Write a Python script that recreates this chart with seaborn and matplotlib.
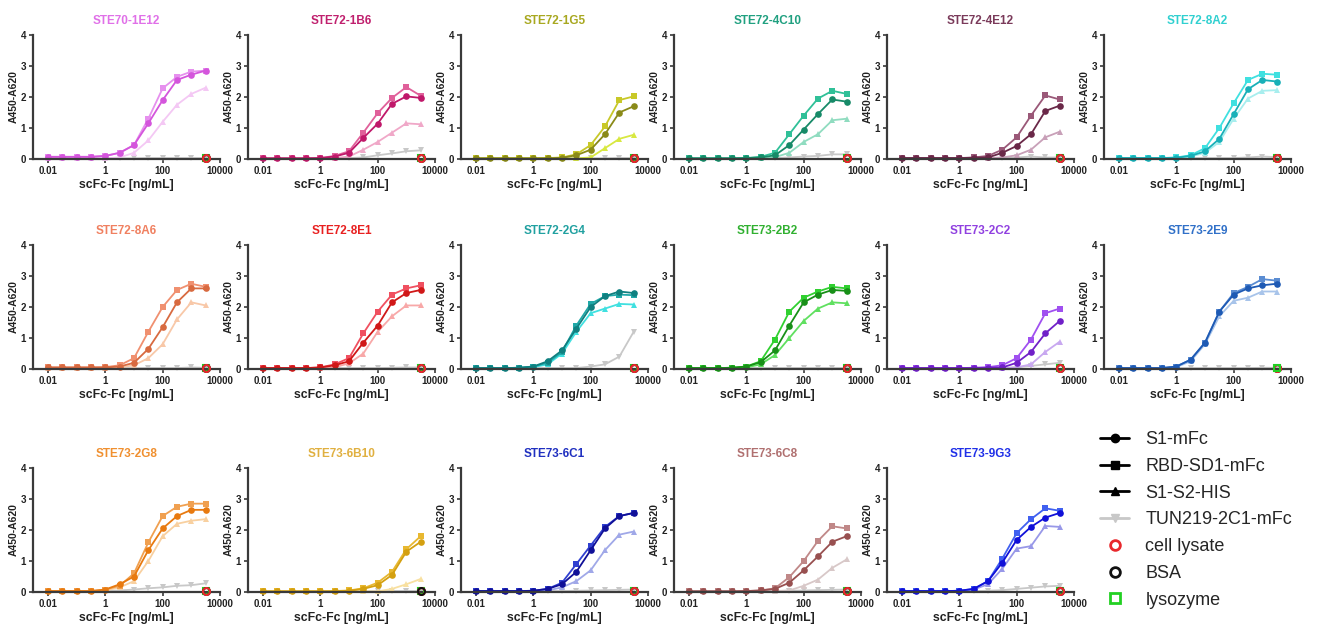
import numpy as np
import pandas as pd
import matplotlib
matplotlib.use("Agg")
import matplotlib.pyplot as plt
from matplotlib.lines import Line2D
import matplotlib.font_manager as fm
import seaborn as sns

# ---------------- data ----------------
conc = [0.01, 0.0316, 0.1, 0.316, 1, 3.16, 10, 31.6, 100, 316, 1000, 3162]

titles = ["STE70-1E12", "STE72-1B6", "STE72-1G5", "STE72-4C10", "STE72-4E12", "STE72-8A2",
          "STE72-8A6", "STE72-8E1", "STE72-2G4", "STE73-2B2", "STE73-2C2", "STE73-2E9",
          "STE73-2G8", "STE73-6B10", "STE73-6C1", "STE73-6C8", "STE73-9G3"]

title_colors = ["#E070E8", "#C0206E", "#A8A820", "#20A080", "#7A3A5A", "#30D0D0",
                "#F08060", "#E82020", "#20A0A0", "#30B030", "#9040E0", "#3070C8",
                "#F09030", "#E0B040", "#2030C0", "#B07070", "#2030E8"]

color_s1 = ["#D455DC", "#C0186A", "#8A8A18", "#178A68", "#6A2848", "#18B0B8",
            "#D86A40", "#D01818", "#108080", "#189018", "#7020C8", "#1E5AB4",
            "#E87A10", "#D4A010", "#101098", "#985050", "#1010D8"]
color_rbd = ["#E690EE", "#E0609A", "#C8C828", "#30C098", "#9A5878", "#40E0E0",
             "#F09070", "#F05060", "#20A8A8", "#30D030", "#A050F0", "#5A8CD2",
             "#F0A050", "#E8B830", "#3040D0", "#C08888", "#4060F0"]
color_s1s2 = ["#F4C8F4", "#F0A8C8", "#D8E840", "#90DCC0", "#C8A0B8", "#A8EEEE",
              "#F8C8A8", "#F8A8A8", "#40E0E0", "#60E060", "#C8A8F0", "#A8C4EA",
              "#F8D0A0", "#F8E0A0", "#A0A8E8", "#D8C8C8", "#9898E8"]

s1_mfc = [
    [0.07, 0.07, 0.07, 0.07, 0.10, 0.20, 0.45, 1.15, 1.90, 2.55, 2.72, 2.85],
    [0.02, 0.02, 0.02, 0.02, 0.03, 0.08, 0.20, 0.68, 1.14, 1.78, 2.02, 1.97],
    [0.02, 0.02, 0.02, 0.02, 0.02, 0.02, 0.04, 0.12, 0.30, 0.80, 1.50, 1.70],
    [0.02, 0.02, 0.02, 0.02, 0.03, 0.05, 0.12, 0.45, 0.95, 1.45, 1.92, 1.85],
    [0.03, 0.03, 0.03, 0.03, 0.03, 0.04, 0.05, 0.20, 0.42, 0.80, 1.55, 1.72],
    [0.03, 0.03, 0.03, 0.03, 0.04, 0.10, 0.25, 0.65, 1.45, 2.25, 2.55, 2.50],
    [0.05, 0.05, 0.05, 0.05, 0.05, 0.08, 0.20, 0.65, 1.35, 2.15, 2.60, 2.60],
    [0.03, 0.03, 0.03, 0.03, 0.05, 0.12, 0.25, 0.85, 1.40, 2.15, 2.45, 2.55],
    [0.03, 0.03, 0.03, 0.04, 0.08, 0.25, 0.60, 1.30, 2.00, 2.35, 2.50, 2.45],
    [0.03, 0.03, 0.03, 0.04, 0.08, 0.22, 0.60, 1.40, 2.15, 2.40, 2.55, 2.52],
    [0.03, 0.03, 0.03, 0.03, 0.03, 0.03, 0.04, 0.05, 0.20, 0.55, 1.15, 1.55],
    [0.03, 0.03, 0.03, 0.03, 0.08, 0.30, 0.85, 1.85, 2.40, 2.60, 2.70, 2.75],
    [0.03, 0.03, 0.03, 0.03, 0.08, 0.25, 0.50, 1.35, 2.05, 2.45, 2.65, 2.65],
    [0.02, 0.02, 0.02, 0.02, 0.02, 0.02, 0.04, 0.10, 0.22, 0.55, 1.30, 1.62],
    [0.03, 0.03, 0.03, 0.03, 0.04, 0.10, 0.25, 0.65, 1.35, 2.05, 2.45, 2.55],
    [0.02, 0.02, 0.02, 0.02, 0.03, 0.05, 0.10, 0.30, 0.70, 1.15, 1.62, 1.80],
    [0.03, 0.03, 0.03, 0.03, 0.04, 0.10, 0.35, 0.95, 1.68, 2.10, 2.40, 2.55],
]
rbd_sd1_mfc = [
    [0.07, 0.07, 0.07, 0.07, 0.10, 0.20, 0.45, 1.30, 2.28, 2.65, 2.82, 2.85],
    [0.02, 0.02, 0.02, 0.02, 0.03, 0.10, 0.25, 0.85, 1.48, 1.97, 2.32, 2.04],
    [0.02, 0.02, 0.02, 0.02, 0.02, 0.03, 0.05, 0.15, 0.45, 1.05, 1.90, 2.02],
    [0.02, 0.02, 0.02, 0.02, 0.03, 0.07, 0.20, 0.80, 1.40, 1.95, 2.20, 2.10],
    [0.03, 0.03, 0.03, 0.03, 0.03, 0.05, 0.10, 0.30, 0.70, 1.40, 2.05, 1.92],
    [0.03, 0.03, 0.03, 0.03, 0.05, 0.12, 0.35, 1.00, 1.80, 2.55, 2.75, 2.72],
    [0.05, 0.05, 0.05, 0.05, 0.06, 0.12, 0.35, 1.20, 2.00, 2.55, 2.75, 2.65],
    [0.03, 0.03, 0.03, 0.03, 0.05, 0.15, 0.35, 1.15, 1.85, 2.40, 2.60, 2.70],
    [0.03, 0.03, 0.03, 0.04, 0.08, 0.20, 0.55, 1.40, 2.10, 2.35, 2.40, 2.38],
    [0.03, 0.03, 0.03, 0.04, 0.08, 0.25, 0.95, 1.85, 2.30, 2.50, 2.65, 2.60],
    [0.03, 0.03, 0.03, 0.03, 0.03, 0.04, 0.06, 0.12, 0.35, 0.95, 1.80, 1.95],
    [0.03, 0.03, 0.03, 0.03, 0.08, 0.30, 0.85, 1.85, 2.45, 2.65, 2.90, 2.85],
    [0.03, 0.03, 0.03, 0.03, 0.08, 0.20, 0.60, 1.60, 2.45, 2.75, 2.85, 2.85],
    [0.02, 0.02, 0.02, 0.02, 0.02, 0.03, 0.05, 0.12, 0.30, 0.65, 1.38, 1.80],
    [0.03, 0.03, 0.03, 0.03, 0.04, 0.10, 0.30, 0.90, 1.50, 2.10, 2.45, 2.55],
    [0.02, 0.02, 0.02, 0.02, 0.03, 0.05, 0.12, 0.48, 1.00, 1.65, 2.12, 2.05],
    [0.03, 0.03, 0.03, 0.03, 0.04, 0.10, 0.35, 1.08, 1.90, 2.35, 2.70, 2.62],
]
s1_s2_his = [
    [0.02, 0.02, 0.02, 0.02, 0.02, 0.05, 0.20, 0.60, 1.20, 1.75, 2.10, 2.30],
    [0.02, 0.02, 0.02, 0.02, 0.02, 0.03, 0.08, 0.30, 0.55, 0.85, 1.15, 1.12],
    [0.02, 0.02, 0.02, 0.02, 0.02, 0.02, 0.02, 0.02, 0.05, 0.35, 0.65, 0.78],
    [0.02, 0.02, 0.02, 0.02, 0.02, 0.03, 0.06, 0.20, 0.55, 0.80, 1.25, 1.30],
    [0.02, 0.02, 0.02, 0.02, 0.02, 0.02, 0.03, 0.05, 0.12, 0.30, 0.70, 0.88],
    [0.03, 0.03, 0.03, 0.03, 0.03, 0.08, 0.20, 0.55, 1.30, 1.95, 2.20, 2.22],
    [0.03, 0.03, 0.03, 0.03, 0.03, 0.05, 0.12, 0.35, 0.80, 1.60, 2.15, 2.05],
    [0.03, 0.03, 0.03, 0.03, 0.03, 0.06, 0.18, 0.50, 1.20, 1.70, 2.05, 2.05],
    [0.03, 0.03, 0.03, 0.03, 0.06, 0.15, 0.50, 1.20, 1.80, 1.95, 2.10, 2.08],
    [0.03, 0.03, 0.03, 0.03, 0.05, 0.15, 0.45, 1.00, 1.55, 1.95, 2.15, 2.12],
    [0.02, 0.02, 0.02, 0.02, 0.02, 0.02, 0.02, 0.03, 0.05, 0.15, 0.55, 0.88],
    [0.03, 0.03, 0.03, 0.03, 0.06, 0.25, 0.80, 1.70, 2.20, 2.30, 2.50, 2.50],
    [0.03, 0.03, 0.03, 0.03, 0.05, 0.15, 0.35, 1.00, 1.80, 2.20, 2.30, 2.35],
    [0.02, 0.02, 0.02, 0.02, 0.02, 0.02, 0.02, 0.02, 0.02, 0.10, 0.25, 0.42],
    [0.03, 0.03, 0.03, 0.03, 0.03, 0.05, 0.15, 0.35, 0.70, 1.35, 1.85, 1.95],
    [0.02, 0.02, 0.02, 0.02, 0.02, 0.02, 0.03, 0.05, 0.20, 0.40, 0.78, 1.05],
    [0.03, 0.03, 0.03, 0.03, 0.03, 0.08, 0.25, 0.75, 1.40, 1.48, 2.13, 2.10],
]
tun219_2c1_mfc = [
    [0.02, 0.02, 0.02, 0.02, 0.02, 0.02, 0.02, 0.03, 0.03, 0.03, 0.03, 0.03],
    [0.02, 0.02, 0.02, 0.02, 0.02, 0.02, 0.03, 0.05, 0.12, 0.18, 0.25, 0.28],
    [0.02, 0.02, 0.02, 0.02, 0.02, 0.02, 0.02, 0.02, 0.02, 0.02, 0.03, 0.03],
    [0.02, 0.02, 0.02, 0.02, 0.02, 0.02, 0.03, 0.05, 0.08, 0.10, 0.15, 0.15],
    [0.02, 0.02, 0.02, 0.02, 0.02, 0.02, 0.02, 0.03, 0.05, 0.08, 0.05, 0.05],
    [0.03, 0.03, 0.03, 0.03, 0.03, 0.03, 0.03, 0.03, 0.03, 0.05, 0.08, 0.06],
    [0.03, 0.03, 0.03, 0.03, 0.03, 0.03, 0.03, 0.03, 0.03, 0.03, 0.05, 0.04],
    [0.03, 0.03, 0.03, 0.03, 0.03, 0.03, 0.03, 0.03, 0.03, 0.04, 0.05, 0.05],
    [0.03, 0.03, 0.03, 0.03, 0.03, 0.03, 0.03, 0.03, 0.08, 0.15, 0.40, 1.20],
    [0.03, 0.03, 0.03, 0.03, 0.03, 0.03, 0.03, 0.03, 0.03, 0.03, 0.03, 0.03],
    [0.02, 0.02, 0.02, 0.02, 0.02, 0.02, 0.02, 0.03, 0.06, 0.10, 0.15, 0.20],
    [0.03, 0.03, 0.03, 0.03, 0.03, 0.03, 0.03, 0.03, 0.03, 0.03, 0.04, 0.04],
    [0.03, 0.03, 0.03, 0.03, 0.03, 0.05, 0.08, 0.12, 0.15, 0.20, 0.22, 0.28],
    [0.02, 0.02, 0.02, 0.02, 0.02, 0.02, 0.02, 0.02, 0.02, 0.03, 0.03, 0.03],
    [0.03, 0.03, 0.03, 0.03, 0.03, 0.03, 0.03, 0.04, 0.05, 0.06, 0.07, 0.08],
    [0.02, 0.02, 0.02, 0.02, 0.02, 0.02, 0.03, 0.04, 0.05, 0.06, 0.07, 0.08],
    [0.03, 0.03, 0.03, 0.03, 0.03, 0.03, 0.04, 0.06, 0.10, 0.14, 0.18, 0.20],
]
# control samples (single point at highest concentration)
control_conc = 3162
cell_lysate = [0.02] * 17
bsa = [0.02] * 17
lysozyme = [0.02] * 17
top_control = ["cell lysate"] * 11 + ["lysozyme"] + ["cell lysate", "BSA"] + ["cell lysate"] * 3

x_ticks = [0.01, 1, 100, 10000]
x_ticklabels = ["0.01", "1", "100", "10000"]
y_ticks = [0, 1, 2, 3, 4]

# ---------------- style ----------------
sns.set_theme(style="ticks")
names = {f.name for f in fm.fontManager.ttflist}
fam = "Liberation Sans" if "Liberation Sans" in names else "DejaVu Sans"
plt.rcParams["font.family"] = [fam, "DejaVu Sans"]

W, H = 1321, 624
fig = plt.figure(figsize=(W / 100, H / 100), dpi=100)
fig.patch.set_facecolor("white")

col_left = [33, 248, 461, 674, 887, 1104]
ax_w = 187
row_top = [35, 245, 468]
ax_h = 124
axis_col = "#3a3a3a"
gray = "#c8c8c8"

ctrl_style = {
    "cell lysate": dict(marker="o", edge="#e8282c"),
    "BSA": dict(marker="o", edge="#111111"),
    "lysozyme": dict(marker="s", edge="#22d022"),
}

for i, t in enumerate(titles):
    r, c = divmod(i, 6)
    left = col_left[c]
    top = row_top[r]
    ax = fig.add_axes([left / W, 1 - (top + ax_h) / H, ax_w / W, ax_h / H])
    series = [
        (tun219_2c1_mfc[i], gray, "v"),
        (s1_s2_his[i], color_s1s2[i], "^"),
        (rbd_sd1_mfc[i], color_rbd[i], "s"),
        (s1_mfc[i], color_s1[i], "o"),
    ]
    for vals, col, mk in series:
        sns.lineplot(x=conc, y=vals, ax=ax, color=col, marker=mk, markersize=4.8,
                     markeredgewidth=0, linewidth=1.3, legend=False)
    ctrl_vals = {"cell lysate": cell_lysate[i], "BSA": bsa[i], "lysozyme": lysozyme[i]}
    order = [k for k in ["lysozyme", "BSA", "cell lysate"] if k != top_control[i]] + [top_control[i]]
    for k in order:
        st = ctrl_style[k]
        ax.plot([control_conc], [ctrl_vals[k]], linestyle="none", marker=st["marker"],
                markersize=5, markerfacecolor="none", markeredgecolor=st["edge"],
                markeredgewidth=1.5, clip_on=False, zorder=5)
    for ln in ax.lines:
        ln.set_clip_on(False)
    ax.set_xscale("log")
    ax.set_xlim(0.003, 10000)
    ax.set_ylim(0, 4)
    ax.set_xticks(x_ticks)
    ax.set_xticklabels(x_ticklabels)
    ax.set_yticks(y_ticks)
    ax.xaxis.set_minor_locator(matplotlib.ticker.NullLocator())
    ax.tick_params(axis="both", labelsize=7, width=1.2, length=3, color=axis_col,
                   labelcolor="#222222", pad=2)
    for lab in ax.get_xticklabels() + ax.get_yticklabels():
        lab.set_fontweight("bold")
    for s in ["top", "right"]:
        ax.spines[s].set_visible(False)
    for s in ["left", "bottom"]:
        ax.spines[s].set_color(axis_col)
        ax.spines[s].set_linewidth(1.6)
    ax.set_facecolor("none")
    ax.set_xlabel("scFc-Fc [ng/mL]", fontsize=8.8, fontweight="bold", color="#222222", labelpad=2)
    ax.set_ylabel("A450-A620", fontsize=7.5, fontweight="bold", color="#222222", labelpad=1)
    ax.set_title(t, fontsize=8.5, fontweight="bold", color=title_colors[i], pad=8)

# ---------------- legend ----------------
legend_labels = ["S1-mFc", "RBD-SD1-mFc", "S1-S2-HIS", "TUN219-2C1-mFc", "cell lysate", "BSA", "lysozyme"]
handles = [
    Line2D([], [], color="black", marker="o", markersize=6, linewidth=2),
    Line2D([], [], color="black", marker="s", markersize=6, linewidth=2),
    Line2D([], [], color="black", marker="^", markersize=6, linewidth=2),
    Line2D([], [], color=gray, marker="v", markersize=6, linewidth=2),
    Line2D([], [], linestyle="none", marker="o", markersize=7, markerfacecolor="none",
           markeredgecolor="#e8282c", markeredgewidth=2),
    Line2D([], [], linestyle="none", marker="o", markersize=7, markerfacecolor="none",
           markeredgecolor="#111111", markeredgewidth=2),
    Line2D([], [], linestyle="none", marker="s", markersize=7, markerfacecolor="none",
           markeredgecolor="#22d022", markeredgewidth=2),
]
fig.legend(handles, legend_labels, loc="upper left", bbox_to_anchor=(1093 / W, 1 - 424 / H),
           frameon=False, fontsize=13, handlelength=1.6, handletextpad=0.9,
           labelspacing=0.54, borderaxespad=0)

fig.savefig("out.png", dpi=100, facecolor="white")
